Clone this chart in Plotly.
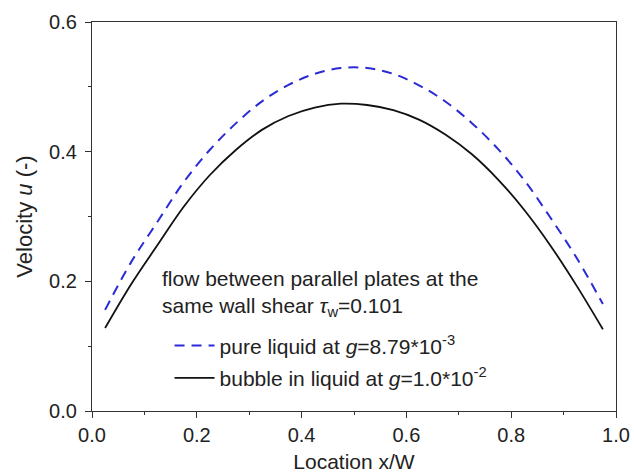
import plotly.graph_objects as go

x_loc = [0.025, 0.075, 0.125, 0.175, 0.225, 0.275, 0.325, 0.375, 0.425, 0.475,
         0.525, 0.575, 0.625, 0.675, 0.725, 0.775, 0.825, 0.875, 0.925, 0.975]
u_pure = [0.156, 0.230, 0.292, 0.353, 0.403, 0.444, 0.478, 0.503, 0.520, 0.529,
          0.529, 0.520, 0.502, 0.477, 0.444, 0.404, 0.356, 0.298, 0.236, 0.165]
u_bubble = [0.128, 0.196, 0.256, 0.315, 0.364, 0.403, 0.434, 0.455, 0.468, 0.474,
            0.472, 0.464, 0.449, 0.426, 0.396, 0.357, 0.310, 0.255, 0.193, 0.126]

x_ticks = [0.0, 0.2, 0.4, 0.6, 0.8, 1.0]
y_ticks = [0.0, 0.2, 0.4, 0.6]

header_lines = ["flow between parallel plates at the",
                "same wall shear <i>τ</i><sub>w</sub>=0.101"]

font_family = "Liberation Sans, Arial, sans-serif"
axis_color = "#333333"
text_color = "#222222"

fig = go.Figure()
fig.add_trace(go.Scatter(
    x=x_loc, y=u_pure, mode="lines", line_shape="spline",
    line=dict(color="#2b2bd6", width=2, dash="10px,7px"),
    name="pure liquid at <i>g</i>=8.79*10<sup>-3</sup>", legendgroup="a",
))
fig.add_trace(go.Scatter(
    x=x_loc, y=u_bubble, mode="lines", line_shape="spline",
    line=dict(color="#111111", width=1.8),
    name="bubble in liquid at <i>g</i>=1.0*10<sup>-2</sup>", legendgroup="b",
))

axis_common = dict(
    showline=True, linecolor=axis_color, linewidth=1.2, mirror=True,
    ticks="outside", ticklen=6, tickwidth=1.2, tickcolor=axis_color,
    showgrid=False, zeroline=False, automargin=False,
    tickfont=dict(family=font_family, size=20, color=text_color),
)

fig.update_layout(
    width=634, height=476,
    margin=dict(l=92, r=18, t=22, b=65),
    paper_bgcolor="white", plot_bgcolor="white",
    font=dict(family=font_family, size=20, color=text_color),
    xaxis=dict(range=[0, 1], tickvals=x_ticks, ticktext=[f"{v:.1f}" for v in x_ticks],
               minor=dict(dtick=0.1, ticks="outside", ticklen=3, tickcolor=axis_color),
               title=dict(text="Location x/W", font=dict(size=21), standoff=9),
               **axis_common),
    yaxis=dict(range=[0, 0.6], tickvals=y_ticks, ticktext=[f"{v:.1f}" for v in y_ticks],
               minor=dict(dtick=0.1, ticks="outside", ticklen=3, tickcolor=axis_color),
               title=dict(text="Velocity <i>u</i> (-)", font=dict(size=22), standoff=10),
               ticklabelstandoff=4,
               **axis_common),
    showlegend=True,
    legend=dict(
        x=0.148, y=0.22, xanchor="left", yanchor="top",
        bgcolor="rgba(0,0,0,0)", borderwidth=0,
        font=dict(family=font_family, size=21, color=text_color),
        tracegroupgap=2, itemwidth=40,
    ),
)

for i, line in enumerate(header_lines):
    fig.add_annotation(
        text=line, xref="paper", yref="paper",
        x=(160 - 92) / 524, y=(411 - 278 - 29 * i) / 389,
        xanchor="left", yanchor="middle", showarrow=False,
        font=dict(family=font_family, size=21, color=text_color),
    )

fig.write_html("out.html")
